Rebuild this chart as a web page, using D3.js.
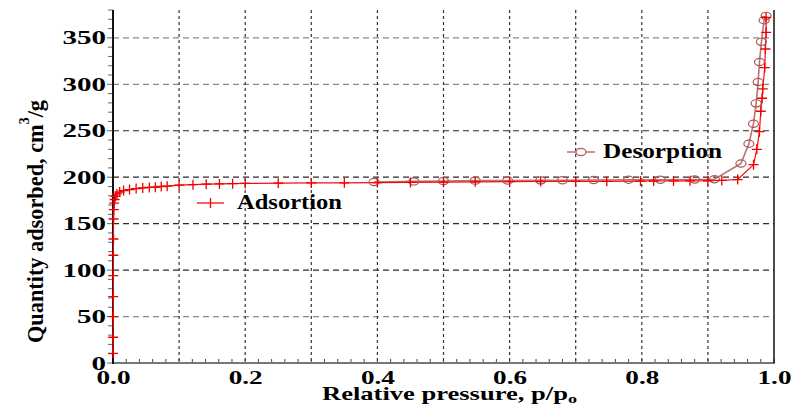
<!DOCTYPE html>
<html>
<head>
<meta charset="utf-8">
<script src="https://cdn.jsdelivr.net/npm/d3@7"></script>
<style>
  body { margin: 0; background: #fff; }
  text { font-family: "Liberation Serif", "Times New Roman", Times, serif; font-weight: bold; }
</style>
</head>
<body>
<div id="isotherm"></div>
<script>
// adsorption branch (relative pressure, quantity adsorbed cm3/g)
var adsP = [0.0001, 0.0002, 0.0003, 0.0004, 0.0005, 0.0006, 0.0007, 0.0008, 0.0012, 0.0018, 0.0025, 0.004, 0.006, 0.010,
    0.016, 0.025, 0.035, 0.045, 0.055, 0.064, 0.073, 0.082, 0.100, 0.121, 0.141, 0.161, 0.181, 0.200, 0.250, 0.300,
    0.350, 0.400, 0.450, 0.500, 0.548, 0.600, 0.647, 0.700, 0.747, 0.798, 0.818, 0.848, 0.873, 0.900, 0.921, 0.945,
    0.969, 0.974, 0.978, 0.980, 0.982, 0.983, 0.986, 0.987, 0.988, 0.988];
var adsQ = [10.4, 27.7, 50, 71.5, 94, 116, 133.5, 155, 165, 172, 176, 179.5, 182, 184,
    185.6, 186.7, 187.8, 188.5, 189, 189.3, 190, 190.3, 191.5, 192, 192.5, 192.8, 193, 193.3, 193.6, 193.8,
    194, 194.2, 194.4, 194.7, 195, 195.2, 195.4, 195.5, 195.6, 195.8, 195.9, 196, 196.1, 196.2, 196.5, 197.5,
    213.5, 230, 249, 271, 285, 295, 318, 338, 356, 372];

// desorption branch
var desP = [0.988, 0.985, 0.981, 0.978, 0.976, 0.973, 0.969, 0.962, 0.950, 0.910, 0.880, 0.828, 0.780, 0.727,
    0.680, 0.647, 0.597, 0.548, 0.500, 0.455, 0.395];
var desQ = [373.7, 369, 345.7, 324, 302.5, 279.5, 257.6, 236, 214.8, 197.8, 197.5, 197.3, 197.2, 197,
    196.8, 196.6, 196.5, 196.3, 196, 195.5, 194.8];

var xTicks = [0, 0.2, 0.4, 0.6, 0.8, 1.0];
var xTickLabels = ["0.0", "0.2", "0.4", "0.6", "0.8", "1.0"];
var xGrid = [0.1, 0.2, 0.3, 0.4, 0.5, 0.6, 0.7, 0.8, 0.9];
var yTicks = [0, 50, 100, 150, 200, 250, 300, 350];

var W = 795, H = 406;
var pLeft = 113, pRight = 774, pTop = 10, pBottom = 363;

var svg = d3.select("#isotherm")
    .append("svg")
    .attr("width", W)
    .attr("height", H);

var x = d3.scaleLinear().domain([0, 1]).range([pLeft, pRight]);
var y = d3.scaleLinear().domain([0, 380]).range([pBottom, pTop]);

// horizontal grid
svg.append("g")
    .selectAll("line")
    .data(yTicks.filter(function (d) { return d > 0; }))
    .enter().append("line")
    .attr("x1", pLeft).attr("x2", pRight)
    .attr("y1", function (d) { return y(d); })
    .attr("y2", function (d) { return y(d); })
    .attr("stroke", function (d) { return (d == 50 || d >= 300) ? "#8a8a8a" : "#2a2a2a"; })
    .attr("stroke-width", 1.2)
    .attr("stroke-dasharray", "6,4");

// vertical grid
svg.append("g")
    .selectAll("line")
    .data(xGrid)
    .enter().append("line")
    .attr("x1", function (d) { return x(d); })
    .attr("x2", function (d) { return x(d); })
    .attr("y1", pTop).attr("y2", pBottom)
    .attr("stroke", "#333")
    .attr("stroke-width", 1.2)
    .attr("stroke-dasharray", "3,3");

// minor ticks
svg.append("g")
    .selectAll("line")
    .data(d3.range(0, 381, 10))
    .enter().append("line")
    .attr("x1", function (d) { return d % 50 == 0 ? pLeft - 6 : pLeft - 5; })
    .attr("x2", pLeft)
    .attr("y1", function (d) { return y(d); })
    .attr("y2", function (d) { return y(d); })
    .attr("stroke", "#666")
    .attr("stroke-width", 1);

svg.append("g")
    .selectAll("line")
    .data(d3.range(0, 51, 1))
    .enter().append("line")
    .attr("x1", function (d) { return x(d / 50); })
    .attr("x2", function (d) { return x(d / 50); })
    .attr("y1", pBottom)
    .attr("y2", pBottom - 4)
    .attr("stroke", "#444")
    .attr("stroke-width", 1);

// axes
var yAxis = svg.append("g")
    .attr("transform", "translate(" + pLeft + ",0)")
    .call(d3.axisLeft(y).tickValues(yTicks).tickSize(0).tickPadding(7));
yAxis.select(".domain").remove();
yAxis.selectAll("text")
    .style("font-size", "19px")
    .attr("fill", "#000")
    .attr("textLength", function (d) { return String(d).length * 14.5; })
    .attr("lengthAdjust", "spacingAndGlyphs");

var xAxis = svg.append("g")
    .attr("transform", "translate(0," + pBottom + ")")
    .call(d3.axisBottom(x).tickValues(xTicks)
        .tickFormat(function (d, i) { return xTickLabels[i]; })
        .tickSize(0).tickPadding(8));
xAxis.select(".domain").remove();
xAxis.selectAll("text")
    .style("font-size", "19px")
    .attr("fill", "#000")
    .attr("textLength", 34)
    .attr("lengthAdjust", "spacingAndGlyphs");

svg.append("line")
    .attr("x1", pLeft).attr("x2", pRight + 1)
    .attr("y1", pBottom).attr("y2", pBottom)
    .attr("stroke", "#777").attr("stroke-width", 2);
svg.append("line")
    .attr("x1", pLeft).attr("x2", pLeft)
    .attr("y1", pTop).attr("y2", pBottom + 1)
    .attr("stroke", "#111").attr("stroke-width", 2);
svg.append("line")
    .attr("x1", pRight).attr("x2", pRight)
    .attr("y1", pTop).attr("y2", pBottom)
    .attr("stroke", "#111").attr("stroke-width", 1.5);

// series
var ads = adsP.map(function (p, i) { return { p: p, q: adsQ[i] }; });
var des = desP.map(function (p, i) { return { p: p, q: desQ[i] }; });

var line = d3.line()
    .x(function (d) { return x(d.p); })
    .y(function (d) { return y(d.q); });

svg.append("path")
    .datum(des)
    .attr("fill", "none")
    .attr("stroke", "#c07070")
    .attr("stroke-width", 1.6)
    .attr("d", line);

svg.append("path")
    .datum(ads)
    .attr("fill", "none")
    .attr("stroke", "#f01010")
    .attr("stroke-width", 1.2)
    .attr("d", line);

svg.append("g")
    .selectAll("ellipse")
    .data(des)
    .enter().append("ellipse")
    .attr("cx", function (d) { return x(d.p); })
    .attr("cy", function (d) { return y(d.q); })
    .attr("rx", 5).attr("ry", 3.6)
    .attr("fill", "none")
    .attr("stroke", "#b05a5a")
    .attr("stroke-width", 1.2);

svg.append("g")
    .selectAll("path")
    .data(ads)
    .enter().append("path")
    .attr("d", function (d) {
        var cx = x(d.p), cy = y(d.q);
        return "M" + (cx - 5) + "," + cy + "H" + (cx + 5) + "M" + cx + "," + (cy - 5) + "V" + (cy + 5);
    })
    .attr("stroke", "#f00000")
    .attr("stroke-width", 1.3);

// legend
svg.append("line")
    .attr("x1", 197).attr("x2", 224).attr("y1", 203).attr("y2", 203)
    .attr("stroke", "#f01010").attr("stroke-width", 1.3);
svg.append("line")
    .attr("x1", 210.5).attr("x2", 210.5).attr("y1", 198).attr("y2", 208)
    .attr("stroke", "#f00000").attr("stroke-width", 1.3);
svg.append("text")
    .attr("x", 237).attr("y", 209)
    .style("font-size", "20px")
    .attr("textLength", 105).attr("lengthAdjust", "spacingAndGlyphs")
    .text("Adsortion");

svg.append("line")
    .attr("x1", 567).attr("x2", 595).attr("y1", 152).attr("y2", 152)
    .attr("stroke", "#c07070").attr("stroke-width", 1.5);
svg.append("ellipse")
    .attr("cx", 581).attr("cy", 152).attr("rx", 5).attr("ry", 3.6)
    .attr("fill", "#fff").attr("stroke", "#b05a5a").attr("stroke-width", 1.2);
svg.append("text")
    .attr("x", 603).attr("y", 158)
    .style("font-size", "20px")
    .attr("textLength", 119).attr("lengthAdjust", "spacingAndGlyphs")
    .text("Desorption");

// axis titles
var xt = svg.append("text")
    .attr("x", 322).attr("y", 400)
    .style("font-size", "19px")
    .attr("textLength", 255).attr("lengthAdjust", "spacingAndGlyphs");
xt.append("tspan").text("Relative pressure, p/p");
xt.append("tspan").attr("dy", 3).style("font-size", "13px").text("o");

var yt = svg.append("text")
    .attr("transform", "translate(43,343) rotate(-90)")
    .style("font-size", "24px")
    .attr("textLength", 243).attr("lengthAdjust", "spacingAndGlyphs");
yt.append("tspan").text("Quantity adsorbed, cm");
yt.append("tspan").attr("dy", -14).style("font-size", "15px").text("3");
yt.append("tspan").attr("dy", 14).text("/g");
</script>
</body>
</html>
